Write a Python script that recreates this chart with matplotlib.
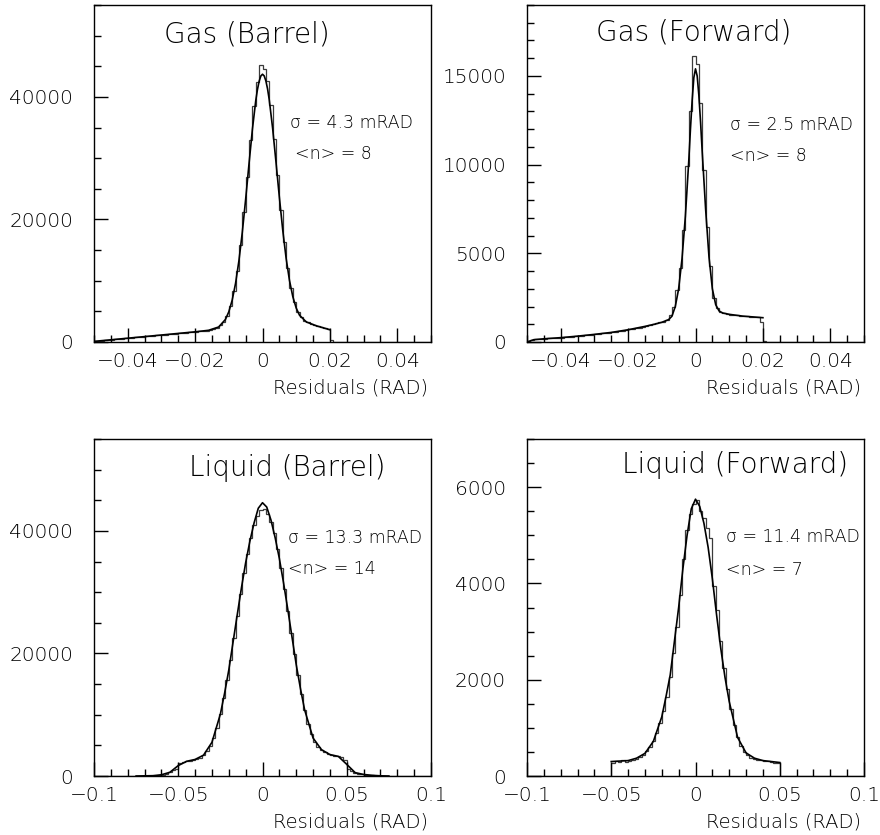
import numpy as np
import matplotlib
matplotlib.use('Agg')
import matplotlib.pyplot as plt
from matplotlib.ticker import MultipleLocator, FixedLocator, FixedFormatter

plt.rcParams['font.family'] = ['DejaVu Sans']
plt.rcParams['font.weight'] = 'light'
plt.rcParams['axes.unicode_minus'] = True

# ---------------- data ----------------
titles = ['Gas (Barrel)', 'Gas (Forward)', 'Liquid (Barrel)', 'Liquid (Forward)']
sigma_texts = ['σ = 4.3 mRAD', 'σ = 2.5 mRAD', 'σ = 13.3 mRAD', 'σ = 11.4 mRAD']
n_texts = ['<n> = 8', '<n> = 8', '<n> = 14', '<n> = 7']
xlabel = 'Residuals (RAD)'

# histogram ranges (lo, hi, nbins)
gas_range = (-0.05, 0.05, 100)
liq_range = (-0.1, 0.1, 100)

gas_barrel_hist = [
    120, 180, 240, 270, 330, 390, 430, 500, 540, 600,
    640, 700, 760, 790, 860, 900, 960, 1010, 1070, 1100,
    1170, 1210, 1280, 1310, 1380, 1420, 1490, 1520, 1600, 1640,
    1700, 1760, 1800, 1870, 1960, 2100, 2350, 2700, 3300, 4300,
    5900, 8300, 11600, 15900, 21200, 27000, 33000, 38500, 42400, 45200,
    44500, 42600, 38700, 33200, 27300, 21500, 16400, 12100, 8800, 6500,
    4900, 4000, 3450, 3200, 2900, 2750, 2600, 2450, 2350, 2200,
    380, 60, 0, 0, 0, 0, 0, 0, 0, 0,
    0, 0, 0, 0, 0, 0, 0, 0, 0, 0,
    0, 0, 0, 0, 0, 0, 0, 0, 0, 0]
gas_barrel_fit_x = [-0.05, -0.045, -0.04, -0.035, -0.03, -0.025, -0.02, -0.016, -0.013,
                    -0.011, -0.01, -0.009, -0.008, -0.007, -0.006, -0.005, -0.004, -0.003,
                    -0.002, -0.0015, -0.001, -0.0005, 0.0, 0.0005, 0.001, 0.0015, 0.002,
                    0.003, 0.004, 0.005, 0.006, 0.007,
                    0.008, 0.009, 0.010, 0.011, 0.013, 0.016, 0.02]
gas_barrel_fit_y = [100, 360, 620, 880, 1140, 1400, 1660, 1910, 2450,
                    3680, 4925, 6820, 9550, 13240, 17880, 23290, 29090, 34690,
                    39400, 41200, 42550, 43410, 43700, 43430, 42620, 41310, 39540,
                    34910, 29380, 23650, 18290, 13700,
                    10065, 7390, 5545, 4355, 3275, 2640, 2000]

gas_forward_hist = [
    60, 120, 150, 170, 180, 190, 200, 210, 220, 235,
    250, 270, 280, 300, 320, 340, 360, 380, 400, 420,
    450, 470, 490, 510, 530, 550, 580, 610, 640, 680,
    710, 740, 780, 810, 850, 900, 940, 990, 1050, 1100,
    1150, 1250, 1500, 2000, 2950, 4200, 6300, 9900, 13000, 16100,
    15650, 13450, 9700, 6500, 4300, 2500, 1900, 1700, 1620, 1580,
    1550, 1520, 1500, 1480, 1460, 1450, 1430, 1420, 1400, 1150,
    80, 0, 0, 0, 0, 0, 0, 0, 0, 0,
    0, 0, 0, 0, 0, 0, 0, 0, 0, 0,
    0, 0, 0, 0, 0, 0, 0, 0, 0, 0]
gas_forward_fit_x = [-0.05, -0.048, -0.045, -0.04, -0.035, -0.03, -0.025, -0.02, -0.015,
                     -0.012, -0.01, -0.008, -0.007, -0.006, -0.005, -0.004, -0.003, -0.002,
                     -0.0015, -0.001, -0.0005, 0.0, 0.0005, 0.001, 0.0015, 0.002,
                     0.003, 0.004, 0.005, 0.006, 0.007, 0.008,
                     0.01, 0.014, 0.018, 0.02]
gas_forward_fit_y = [0, 130, 180, 245, 330, 430, 540, 690, 880,
                     1010, 1110, 1260, 1450, 2000, 3000, 4700, 7100, 10200,
                     12000, 13600, 14900, 15400, 15000, 13900, 12400, 10700,
                     7500, 4800, 3000, 2100, 1750, 1640,
                     1560, 1460, 1400, 1370]

liquid_barrel_hist = [
    0, 0, 0, 0, 0, 0, 0, 0, 0, 0,
    0, 0, 0, 0, 0, 10, 20, 40, 70, 120,
    200, 350, 600, 900, 1200, 2200, 2300, 2400, 2500, 2650,
    2800, 3000, 3400, 4000, 4900, 6200, 7900, 10100, 12700, 15700,
    19000, 22500, 26100, 29700, 33100, 36200, 38900, 41000, 42500, 43400,
    43500, 42800, 41500, 39600, 37000, 34000, 30600, 27000, 23400, 19900,
    16500, 13400, 10700, 8500, 6800, 5600, 4800, 4300, 3900, 3600,
    3400, 3300, 3200, 3100, 2600, 1100, 750, 520, 380, 280,
    210, 150, 110, 80, 50, 30, 15, 5, 0, 0,
    0, 0, 0, 0, 0, 0, 0, 0, 0, 0]
liquid_barrel_fit_x = [-0.075, -0.065, -0.06, -0.055, -0.05, -0.045, -0.04, -0.035, -0.03,
                       -0.025, -0.0225, -0.02, -0.0175, -0.015, -0.0125, -0.01, -0.0075,
                       -0.005, -0.0025, 0.0, 0.0025, 0.005, 0.0075, 0.01, 0.0125, 0.015,
                       0.0175, 0.02, 0.0225, 0.025, 0.03, 0.035, 0.04, 0.045, 0.05, 0.055,
                       0.06, 0.065, 0.07, 0.075]
liquid_barrel_fit_y = [0, 50, 200, 600, 1700, 2400, 2700, 3400, 5500,
                       10100, 13500, 17300, 21800, 26300, 30700, 34800, 38300,
                       41300, 43700, 44600, 43900, 41800, 38900, 35500, 31500, 27200,
                       22700, 18200, 14300, 10800, 6200, 4300, 3500, 3200, 1900, 550,
                       250, 110, 30, 0]

liquid_forward_hist = [
    0, 0, 0, 0, 0, 0, 0, 0, 0, 0,
    0, 0, 0, 0, 0, 0, 0, 0, 0, 0,
    0, 0, 0, 0, 0, 280, 310, 290, 330, 300,
    310, 340, 360, 390, 440, 520, 600, 730, 900, 1100,
    1350, 1650, 2050, 2550, 3100, 3750, 4500, 5100, 5450, 5650,
    5740, 5500, 5350, 5150, 4950, 3950, 3450, 2800, 2250, 1800,
    1400, 1050, 800, 620, 500, 430, 380, 360, 330, 340,
    310, 320, 290, 270, 260, 0, 0, 0, 0, 0,
    0, 0, 0, 0, 0, 0, 0, 0, 0, 0,
    0, 0, 0, 0, 0, 0, 0, 0, 0, 0]
liquid_forward_fit_x = [-0.05, -0.04, -0.035, -0.03, -0.025, -0.02, -0.0175, -0.015, -0.0125,
                        -0.01, -0.0075, -0.005, -0.0025, 0.0, 0.0025, 0.005, 0.0075, 0.01,
                        0.0125, 0.015, 0.0175, 0.02, 0.025, 0.03, 0.035, 0.04, 0.05]
liquid_forward_fit_y = [300, 320, 370, 470, 720, 1230, 1650, 2100, 2800,
                        3500, 4300, 5000, 5550, 5750, 5600, 5250, 4750, 4100,
                        3350, 2650, 2050, 1550, 800, 480, 370, 320, 280]

gas_xticks = [-0.04, -0.02, 0.0, 0.02, 0.04]
gas_xticklabels = ['−0.04', '−0.02', '0', '0.02', '0.04']
liq_xticks = [-0.1, -0.05, 0.0, 0.05, 0.1]
liq_xticklabels = ['−0.1', '−0.05', '0', '0.05', '0.1']

yticks_barrel = [0, 20000, 40000]
yticklabels_barrel = ['0', '20000', '40000']
yticks_gas_fwd = [0, 5000, 10000, 15000]
yticklabels_gas_fwd = ['0', '5000', '10000', '15000']
yticks_liq_fwd = [0, 2000, 4000, 6000]
yticklabels_liq_fwd = ['0', '2000', '4000', '6000']

# ---------------- layout ----------------
W, H = 880, 835
fig = plt.figure(figsize=(W / 100, H / 100), dpi=100)


def make_axes(l, t, r, b):
    return fig.add_axes([l / W, 1 - b / H, (r - l) / W, (b - t) / H])


panels = [
    dict(box=(94, 5, 431, 342), rng=gas_range, hist=gas_barrel_hist,
         fx=gas_barrel_fit_x, fy=gas_barrel_fit_y, ylim=55000,
         xt=gas_xticks, xtl=gas_xticklabels, xminor=0.005,
         yt=yticks_barrel, ytl=yticklabels_barrel, yminor=5000,
         title_pos=(0.455, 0.911), s_pos=(0.582, 0.649), n_pos=(0.596, 0.558)),
    dict(box=(527, 5, 864, 342), rng=gas_range, hist=gas_forward_hist,
         fx=gas_forward_fit_x, fy=gas_forward_fit_y, ylim=19000,
         xt=gas_xticks, xtl=gas_xticklabels, xminor=0.005,
         yt=yticks_gas_fwd, ytl=yticklabels_gas_fwd, yminor=1000,
         title_pos=(0.496, 0.917), s_pos=(0.602, 0.644), n_pos=(0.602, 0.552)),
    dict(box=(94, 439, 431, 776), rng=liq_range, hist=liquid_barrel_hist,
         fx=liquid_barrel_fit_x, fy=liquid_barrel_fit_y, ylim=55000,
         xt=liq_xticks, xtl=liq_xticklabels, xminor=0.01,
         yt=yticks_barrel, ytl=yticklabels_barrel, yminor=5000,
         title_pos=(0.574, 0.914), s_pos=(0.577, 0.705), n_pos=(0.577, 0.614)),
    dict(box=(527, 439, 864, 776), rng=liq_range, hist=liquid_forward_hist,
         fx=liquid_forward_fit_x, fy=liquid_forward_fit_y, ylim=7000,
         xt=liq_xticks, xtl=liq_xticklabels, xminor=0.01,
         yt=yticks_liq_fwd, ytl=yticklabels_liq_fwd, yminor=500,
         title_pos=(0.617, 0.923), s_pos=(0.591, 0.708), n_pos=(0.591, 0.611)),
]

for p, title, st, nt in zip(panels, titles, sigma_texts, n_texts):
    ax = make_axes(*p['box'])
    lo, hi, nb = p['rng']
    edges = np.linspace(lo, hi, nb + 1)
    ax.stairs(p['hist'], edges, color='#3a3a3a', lw=0.9, baseline=0)
    ax.plot(p['fx'], p['fy'], color='black', lw=1.2)
    ax.set_xlim(lo, hi)
    ax.set_ylim(0, p['ylim'])

    ax.xaxis.set_major_locator(FixedLocator(p['xt']))
    ax.xaxis.set_major_formatter(FixedFormatter(p['xtl']))
    ax.xaxis.set_minor_locator(MultipleLocator(p['xminor']))
    ax.yaxis.set_major_locator(FixedLocator(p['yt']))
    ax.yaxis.set_major_formatter(FixedFormatter(p['ytl']))
    ax.yaxis.set_minor_locator(MultipleLocator(p['yminor']))

    ax.tick_params(which='both', direction='in', top=False, right=False, width=1.0, color='black')
    ax.tick_params(which='major', length=10)
    ax.tick_params(which='minor', length=5)
    ax.tick_params(axis='x', which='major', pad=7, labelsize=14.5)
    ax.tick_params(axis='y', which='major', pad=15, labelsize=14.5)
    for sp in ax.spines.values():
        sp.set_linewidth(1.0)

    ax.text(p['title_pos'][0], p['title_pos'][1], title, transform=ax.transAxes,
            ha='center', va='center', fontsize=20)
    ax.text(p['s_pos'][0], p['s_pos'][1], st, transform=ax.transAxes,
            ha='left', va='center', fontsize=12.5)
    ax.text(p['n_pos'][0], p['n_pos'][1], nt, transform=ax.transAxes,
            ha='left', va='center', fontsize=12.5)
    ax.text(0.99, -0.137, xlabel, transform=ax.transAxes,
            ha='right', va='center', fontsize=14)

fig.savefig('out.png', dpi=100)
